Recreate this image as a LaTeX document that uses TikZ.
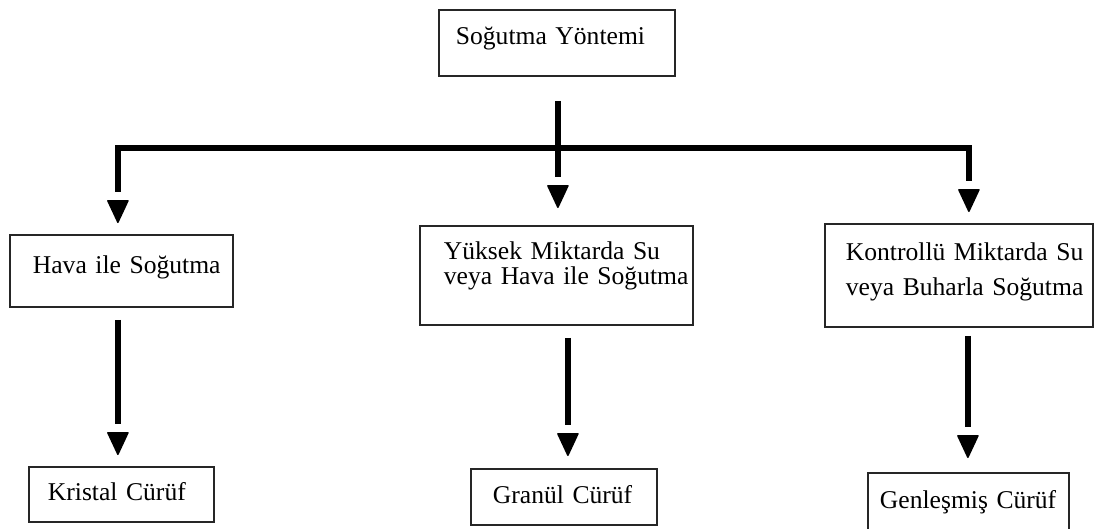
\documentclass[tikz,border=0pt]{standalone}
\usepackage{fontspec}
\setmainfont{Liberation Serif}
\usetikzlibrary{arrows.meta,calc}
\begin{document}
\begin{tikzpicture}[x=1pt,y=-1pt,
  box/.style={draw=black!85, line width=1.8pt, anchor=north west, inner xsep=0pt, inner ysep=0pt,
    align=left, font=\fontsize{25.6}{25}\selectfont},
  link/.style={line width=5.5pt, shorten >=31pt},
  tiponly/.style={line width=1.5pt, -{Triangle[width=22pt,length=24pt,round]}}
]
\useasboundingbox (0,0) rectangle (1105,528);
\clip (0,0) rectangle (1105,528);

\node[box, minimum width=236pt, minimum height=66pt, text width=236pt, text height=16pt, text depth=12pt]
  (top) at (438,9) {\hspace*{17pt}\mbox{Soğutma Yöntemi}};
\node[box, minimum width=223pt, minimum height=72pt, text width=223pt, text height=17pt, text depth=11pt]
  (b1) at (9,234) {\hspace*{23pt}\mbox{Hava ile Soğutma}};
\node[box, minimum width=273pt, minimum height=99pt, text width=273pt, text height=17pt, text depth=48pt,
  font=\fontsize{25.6}{25}\selectfont]
  (b2) at (419,225) {\hspace*{24pt}\mbox{Yüksek Miktarda Su}\\\hspace*{24pt}\mbox{veya Hava ile Soğutma}};
\node[box, minimum width=268pt, minimum height=103pt, text width=268pt, text height=17pt, text depth=46pt,
  font=\fontsize{25.6}{35}\selectfont]
  (b3) at (824,223) {\hspace*{21pt}\mbox{Kontrollü Miktarda Su}\\\hspace*{21pt}\mbox{veya Buharla Soğutma}};
\node[box, minimum width=185pt, minimum height=55pt, text width=185pt, text height=18pt, text depth=5pt]
  (k) at (28,466) {\hspace*{19pt}\mbox{Kristal Cürüf}};
\node[box, minimum width=186pt, minimum height=56pt, text width=186pt, text height=18pt, text depth=4pt]
  (g) at (470,468) {\hspace*{22pt}\mbox{Granül Cürüf}};
\node[box, minimum width=201pt, minimum height=62pt, text width=201pt, text height=16pt, text depth=6pt]
  (gn) at (867,472) {\hspace*{12pt}\mbox{Genleşmiş Cürüf}};

\coordinate (j) at ($(top.south)+(1,71)$);
\coordinate (e1) at ($(b1.north)+(-3.5,-11)$);
\coordinate (e2) at ($(b2.north)+(1.5,-17)$);
\coordinate (e3) at ($(b3.north)+(10,-11)$);
\coordinate (e4) at ($(k.north)+(-3.5,-11)$);
\coordinate (e5) at ($(g.north)+(4,-12)$);
\coordinate (e6) at ($(gn.north)+(-0.5,-14)$);

\draw[link] ($(top.south)+(1,24)$) -- (e2);
\draw[link] (j) -| (e1);
\draw[link] (j) -| (e3);
\draw[link] ($(b1.south)+(-3.5,12)$) -- (e4);
\draw[link] ($(b2.south)+(11.5,12)$) -- (e5);
\draw[link] ($(b3.south)+(9,8)$) -- (e6);
\foreach \e in {e1,e2,e3,e4,e5,e6}
  \draw[tiponly] ($(\e)+(0,-12)$) -- (\e);
\end{tikzpicture}
\end{document}
